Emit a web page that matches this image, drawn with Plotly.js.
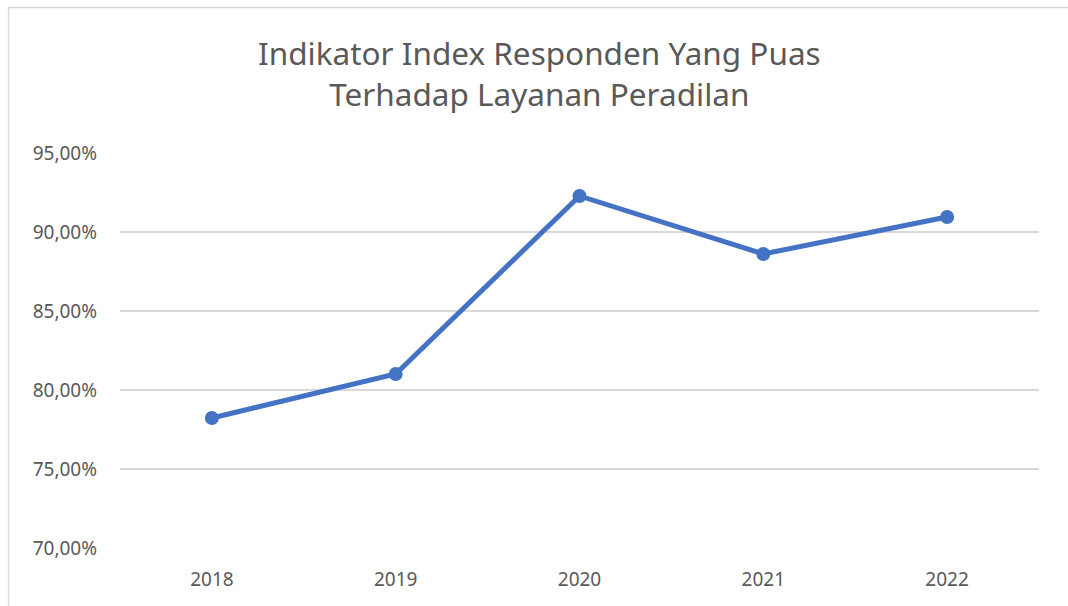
<!DOCTYPE html>
<html>
<head>
<meta charset="utf-8">
<script src="https://cdn.plot.ly/plotly-3.0.1.min.js"></script>
<style>
html,body{margin:0;padding:0;background:#fff;}
#chart{width:1068px;height:606px;}
</style>
</head>
<body>
<div id="chart"></div>
<script>
var years = ['2018', '2019', '2020', '2021', '2022'];
var values = [0.7823, 0.8101, 0.9228, 0.8861, 0.9095];
var titleText = 'Indikator Index Responden Yang Puas<br>Terhadap Layanan Peradilan';

var trace = {
  x: years,
  y: values,
  type: 'scatter',
  mode: 'lines+markers',
  line: {color: '#4472C4', width: 5},
  marker: {color: '#4472C4', size: 14},
  hoverinfo: 'x+y'
};

var layout = {
  width: 1068,
  height: 606,
  margin: {l: 120, r: 29, t: 153, b: 58},
  paper_bgcolor: '#ffffff',
  plot_bgcolor: '#ffffff',
  separators: ',.',
  showlegend: false,
  font: {family: 'Noto Sans, sans-serif', color: '#595959'},
  title: {
    text: titleText,
    font: {family: 'Noto Sans, sans-serif', size: 31.5, color: '#595959'},
    x: 0.505,
    xanchor: 'center',
    y: 0.893,
    yanchor: 'top'
  },
  xaxis: {
    type: 'category',
    range: [-0.5, 4.5],
    showgrid: false,
    zeroline: false,
    showline: false,
    ticks: '',
    tickfont: {size: 19, color: '#595959'},
    ticklabelstandoff: 18
  },
  yaxis: {
    range: [0.70, 0.95],
    tickvals: [0.70, 0.75, 0.80, 0.85, 0.90, 0.95],
    tickformat: '.2%',
    showgrid: true,
    gridcolor: '#d9d9d9',
    gridwidth: 1.5,
    zeroline: false,
    showline: false,
    ticks: '',
    tickfont: {size: 19, color: '#595959'},
    ticklabelstandoff: 22
  },
  shapes: [{
    type: 'rect',
    xref: 'paper', yref: 'paper',
    x0: -0.1213, x1: 1.2, y0: -0.3, y1: 1.3684,
    line: {color: '#d9d9d9', width: 1.5},
    fillcolor: 'rgba(0,0,0,0)',
    layer: 'below'
  }]
};

Plotly.newPlot('chart', [trace], layout, {displayModeBar: false, staticPlot: true});
</script>
</body>
</html>
